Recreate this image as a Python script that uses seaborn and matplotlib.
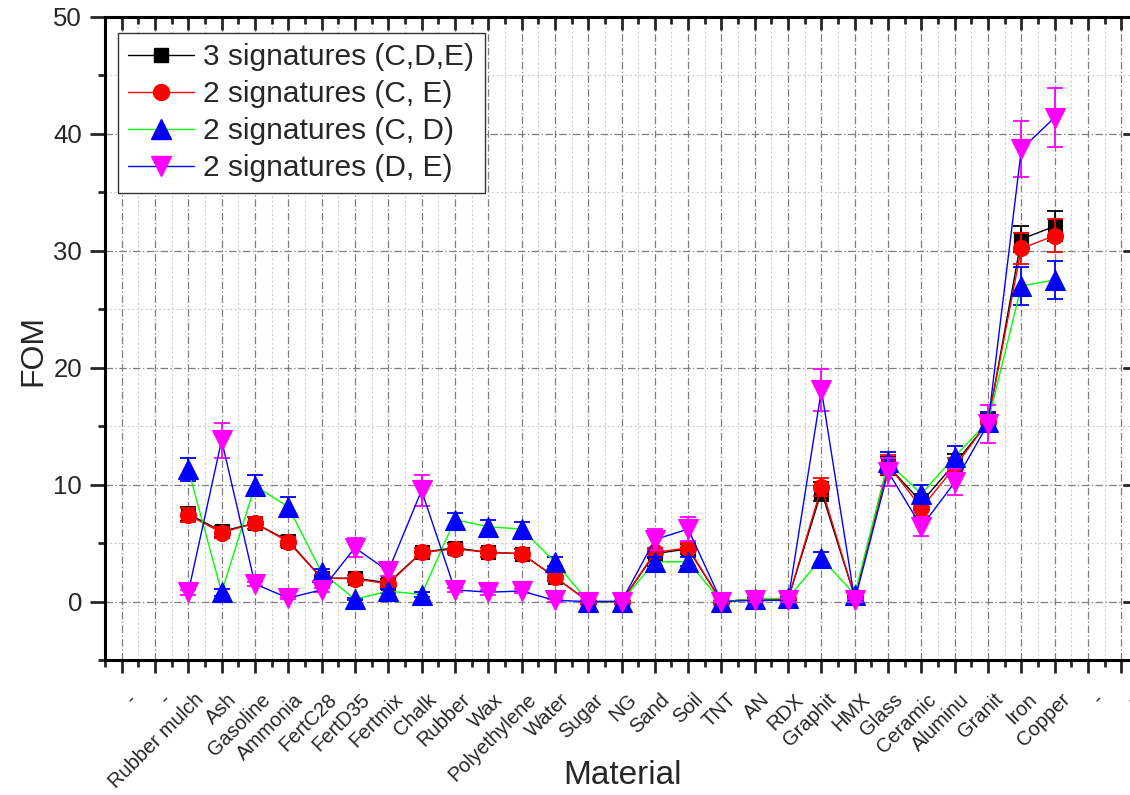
import numpy as np
import pandas as pd
import matplotlib
matplotlib.use("Agg")
import matplotlib.pyplot as plt
import matplotlib.transforms as mtransforms
from matplotlib.lines import Line2D
from matplotlib.ticker import MultipleLocator
import seaborn as sns

# ---- data -------------------------------------------------------------
materials = ["Rubber mulch", "Ash", "Gasoline", "Ammonia", "FertC28", "FertD35",
             "Fertmix", "Chalk", "Rubber", "Wax", "Polyethylene", "Water", "Sugar",
             "NG", "Sand", "Soil", "TNT", "AN", "RDX", "Graphit", "HMX", "Glass",
             "Ceramic", "Aluminu", "Granit", "Iron", "Copper"]
tick_labels = ["-", "-"] + materials + ["-", "-"]

fom_cde = [7.5, 6.0, 6.7, 5.2, 2.0, 2.0, 1.6, 4.2, 4.6, 4.2, 4.1, 2.1, 0.0, 0.0,
           4.1, 4.5, 0.0, 0.2, 0.2, 9.4, 0.4, 11.6, 8.5, 11.8, 15.3, 31.0, 32.1]
err_cde = [0.6, 0.5, 0.5, 0.4, 0.3, 0.3, 0.3, 0.4, 0.4, 0.4, 0.4, 0.3, 0.05, 0.05,
           0.4, 0.4, 0.05, 0.1, 0.1, 0.8, 0.1, 0.8, 0.7, 0.8, 0.8, 1.1, 1.3]

fom_ce = [7.4, 5.9, 6.7, 5.1, 2.0, 1.95, 1.5, 4.2, 4.5, 4.2, 4.1, 2.1, 0.0, 0.0,
          4.2, 4.6, 0.0, 0.2, 0.2, 9.8, 0.4, 11.7, 8.0, 11.5, 15.4, 30.2, 31.3]
err_ce = [0.6, 0.5, 0.5, 0.4, 0.3, 0.3, 0.3, 0.4, 0.4, 0.4, 0.4, 0.3, 0.05, 0.05,
          0.4, 0.4, 0.05, 0.1, 0.1, 0.8, 0.1, 0.8, 0.7, 0.8, 0.8, 1.3, 1.4]

fom_cd = [11.3, 0.8, 9.9, 8.1, 2.5, 0.2, 0.9, 0.6, 7.0, 6.4, 6.2, 3.4, 0.0, 0.0,
          3.4, 3.4, 0.0, 0.2, 0.3, 3.7, 0.6, 11.9, 9.2, 12.4, 15.4, 27.0, 27.5]
err_cd = [1.0, 0.3, 0.9, 0.8, 0.3, 0.1, 0.2, 0.2, 0.6, 0.6, 0.6, 0.4, 0.05, 0.05,
          0.4, 0.4, 0.05, 0.1, 0.1, 0.5, 0.1, 0.9, 0.8, 0.9, 0.8, 1.6, 1.6]

fom_de = [0.8, 13.8, 1.5, 0.3, 1.0, 4.6, 2.6, 9.5, 1.0, 0.8, 0.9, 0.1, 0.0, 0.0,
          5.3, 6.2, 0.0, 0.1, 0.1, 18.1, 0.1, 11.1, 6.4, 10.2, 15.2, 38.7, 41.4]
err_de = [0.2, 1.5, 0.2, 0.1, 0.2, 0.8, 0.4, 1.3, 0.2, 0.2, 0.2, 0.1, 0.05, 0.05,
          0.9, 1.0, 0.05, 0.1, 0.1, 1.8, 0.1, 1.2, 0.8, 1.1, 1.6, 2.4, 2.5]

series_names = ["3 signatures (C,D,E)", "2 signatures (C, E)",
                "2 signatures (C, D)", "2 signatures (D, E)"]

# ---- styling -------------------------------------------------------------
sns.set_theme(style="white")
plt.rcParams["font.family"] = ["Liberation Sans", "DejaVu Sans"]

positions = np.arange(2, 2 + len(materials))
frames = []
for name, vals, errs in zip(series_names,
                            [fom_cde, fom_ce, fom_cd, fom_de],
                            [err_cde, err_ce, err_cd, err_de]):
    frames.append(pd.DataFrame({"pos": positions, "Material": materials,
                                "FOM": vals, "err": errs, "series": name}))
df = pd.concat(frames, ignore_index=True)

# line colour, marker, marker colour, marker size
styles = {
    series_names[0]: ("#000000", "s", "#000000", 10.5),
    series_names[1]: ("#ff0000", "o", "#ff0000", 11.5),
    series_names[2]: ("#00ff00", "^", "#0000ff", 14.0),
    series_names[3]: ("#0000ff", "v", "#ff00ff", 14.0),
}

W, H = 1130, 795
fig = plt.figure(figsize=(W / 100, H / 100), dpi=100)
ax_left, ax_right, ax_top, ax_bottom = 105, 1138, 17, 660
ax = fig.add_axes([ax_left / W, 1 - ax_bottom / H,
                   (ax_right - ax_left) / W, (ax_bottom - ax_top) / H])

handles = []
for z, name in enumerate(series_names):
    lc, mk, mc, ms = styles[name]
    sub = df[df["series"] == name]
    ax.errorbar(sub["pos"], sub["FOM"], yerr=sub["err"], fmt="none",
                ecolor=mc, elinewidth=1.3, capsize=6, capthick=1.3,
                zorder=3 + z)
    sns.lineplot(data=sub, x="pos", y="FOM", ax=ax, color=lc, linewidth=1.0,
                 marker=mk, markersize=ms, markerfacecolor=mc,
                 markeredgecolor=mc, markeredgewidth=0.8, sort=False,
                 zorder=3 + z, legend=False)
    handles.append(Line2D([], [], color=lc, linewidth=1.0, marker=mk,
                          markersize=ms, markerfacecolor=mc,
                          markeredgecolor=mc, label=name))

# axes limits and ticks
ax.set_xlim(-0.5, 30.5)
ax.set_ylim(-5, 50)
ax.set_xticks(np.arange(len(tick_labels)))
ax.xaxis.set_minor_locator(MultipleLocator(0.5))
ax.yaxis.set_major_locator(MultipleLocator(10))
ax.yaxis.set_minor_locator(MultipleLocator(5))

ax.tick_params(axis="x", which="major", direction="out", length=9.5, width=2,
               pad=17, bottom=True, top=True)
ax.tick_params(axis="x", which="minor", direction="out", length=5, width=2,
               bottom=True, top=True)
ax.tick_params(axis="y", which="major", direction="out", length=10.5, width=2,
               left=True, right=True, labelsize=18.5, pad=6)
ax.tick_params(axis="y", which="minor", direction="out", length=5, width=2,
               left=True, right=True)
for t in ax.xaxis.get_major_ticks() + ax.xaxis.get_minor_ticks():
    t.tick2line.set_marker(3)  # top ticks point inward
for t in ax.yaxis.get_major_ticks() + ax.yaxis.get_minor_ticks():
    t.tick2line.set_marker(0)  # right ticks point inward

# rotated category labels, nudged to the right of their ticks
ax.set_xticklabels(tick_labels, rotation=45, ha="right", va="center",
                   rotation_mode="anchor", fontsize=14.5)
shift = mtransforms.ScaledTranslation(12 / 100, 0, fig.dpi_scale_trans)
for lab in ax.get_xticklabels():
    lab.set_transform(lab.get_transform() + shift)

for sp in ax.spines.values():
    sp.set_linewidth(2.2)
    sp.set_color("black")

# grid
ax.grid(which="major", color="#7f7f7f", linestyle=(0, (6, 2, 1, 2)),
        linewidth=0.9)
ax.grid(which="minor", color="#cfcfcf", linestyle=(0, (2, 2)), linewidth=0.8)
ax.set_axisbelow(True)

ax.set_xlabel("Material", fontsize=24, va="center")
ax.xaxis.set_label_coords((622 - ax_left) / (ax_right - ax_left),
                          (ax_bottom - 775) / (ax_bottom - ax_top))
ax.set_ylabel("FOM", fontsize=23, va="center")
ax.yaxis.set_label_coords((33 - ax_left) / (ax_right - ax_left),
                          (ax_bottom - 350) / (ax_bottom - ax_top))

leg = ax.legend(handles=handles, loc="upper left",
                bbox_to_anchor=(118 / W, 1 - 33 / H),
                bbox_transform=fig.transFigure, borderaxespad=0,
                fontsize=21.5, frameon=True, fancybox=False, framealpha=1,
                edgecolor="#333333", labelspacing=0.3, handlelength=2.2,
                handletextpad=0.3, borderpad=0.35)
leg.get_frame().set_linewidth(1.0)

fig.savefig("out.png", dpi=100)
